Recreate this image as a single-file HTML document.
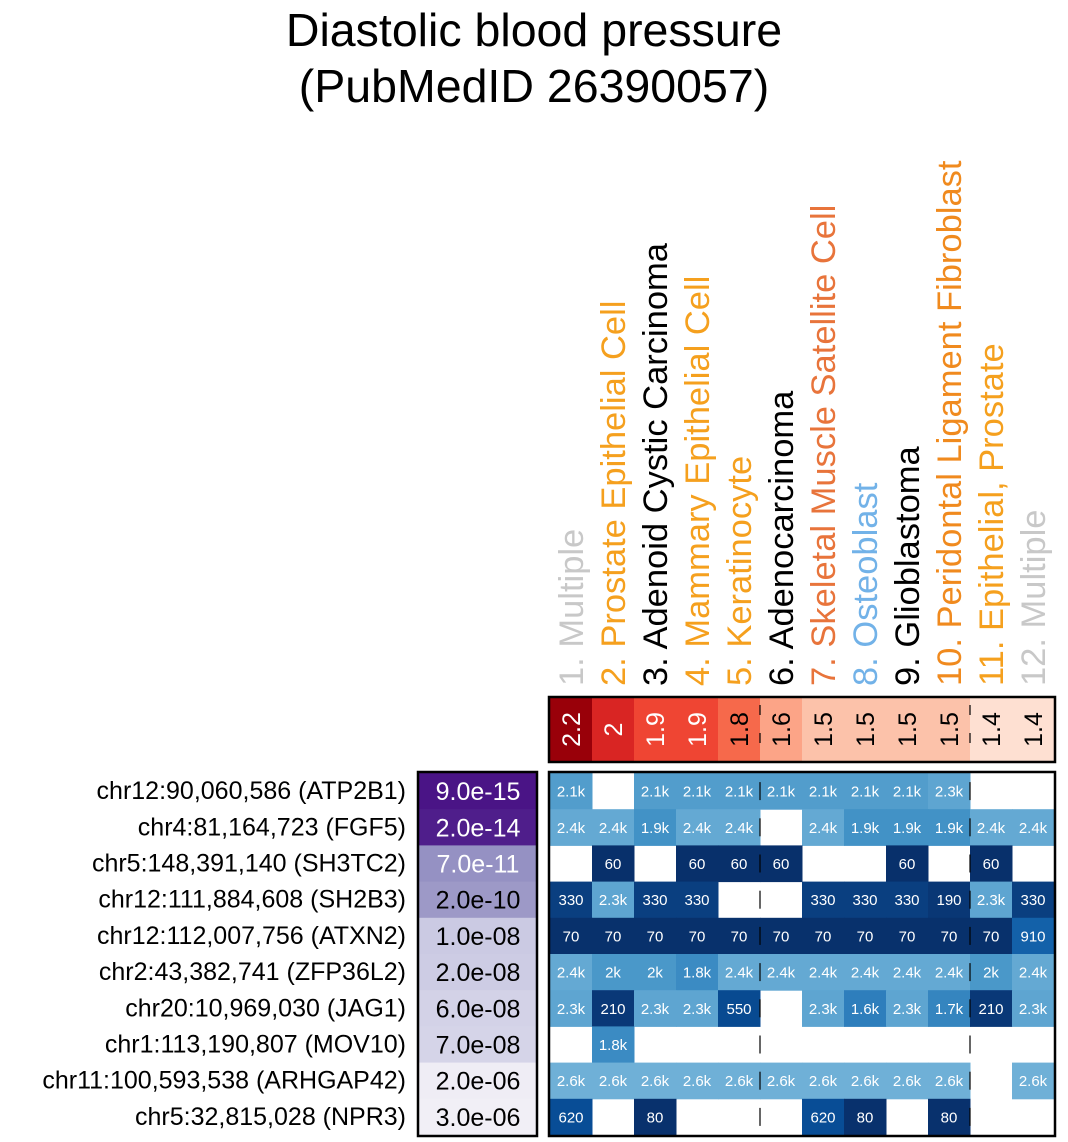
<!DOCTYPE html>
<html><head><meta charset="utf-8"><style>
body{margin:0;background:#fff;}
svg{display:block;font-family:"Liberation Sans",Arial,sans-serif;}
</style></head><body>
<svg id="chart" width="1068" height="1142" viewBox="0 0 1068 1142">
<text x="534" y="46" font-size="46.5" text-anchor="middle">Diastolic blood pressure</text>
<text x="534" y="102" font-size="46.5" text-anchor="middle">(PubMedID 26390057)</text>
<g id="g"></g>
</svg>
<script>
const columns=["1. Multiple","2. Prostate Epithelial Cell","3. Adenoid Cystic Carcinoma","4. Mammary Epithelial Cell","5. Keratinocyte","6. Adenocarcinoma","7. Skeletal Muscle Satellite Cell","8. Osteoblast","9. Glioblastoma","10. Peridontal Ligament Fibroblast","11. Epithelial, Prostate","12. Multiple"];
const columnColors=["#c8c8c8","#f5a01e","#000","#f5a01e","#f5a01e","#000","#e8743b","#72b2e8","#000","#f08a1e","#f5a01e","#c8c8c8"];
const scores=[2.2,2,1.9,1.9,1.8,1.6,1.5,1.5,1.5,1.5,1.4,1.4];
const scoreLabels=["2.2","2","1.9","1.9","1.8","1.6","1.5","1.5","1.5","1.5","1.4","1.4"];
const rowLabels=["chr12:90,060,586 (ATP2B1)","chr4:81,164,723 (FGF5)","chr5:148,391,140 (SH3TC2)","chr12:111,884,608 (SH2B3)","chr12:112,007,756 (ATXN2)","chr2:43,382,741 (ZFP36L2)","chr20:10,969,030 (JAG1)","chr1:113,190,807 (MOV10)","chr11:100,593,538 (ARHGAP42)","chr5:32,815,028 (NPR3)"];
const pvalues=["9.0e-15","2.0e-14","7.0e-11","2.0e-10","1.0e-08","2.0e-08","6.0e-08","7.0e-08","2.0e-06","3.0e-06"];
const pColors=["#4a1486","#4f1e8b","#9591c3","#9d99c7","#cbcae3","#cdcce4","#d3d2e7","#d5d4e8","#efedf5","#f1eff6"];
const pText=["#fff","#fff","#fff","#000","#000","#000","#000","#000","#000","#000"];
const distances=[
[2100,null,2100,2100,2100,2100,2100,2100,2100,2300,null,null],
[2400,2400,1900,2400,2400,null,2400,1900,1900,1900,2400,2400],
[null,60,null,60,60,60,null,null,60,null,60,null],
[330,2300,330,330,null,null,330,330,330,190,2300,330],
[70,70,70,70,70,70,70,70,70,70,70,910],
[2400,2000,2000,1800,2400,2400,2400,2400,2400,2400,2000,2400],
[2300,210,2300,2300,550,null,2300,1600,2300,1700,210,2300],
[null,1800,null,null,null,null,null,null,null,null,null,null],
[2600,2600,2600,2600,2600,2600,2600,2600,2600,2600,null,2600],
[620,null,80,null,null,null,620,80,null,80,null,null]];
const X0=550,CW=42,Y0=773,RH=36.2,SY0=698,SH=63;
const g=document.getElementById('g');const NS="http://www.w3.org/2000/svg";
function el(t,a,txt){const e=document.createElementNS(NS,t);for(const k in a)e.setAttribute(k,a[k]);if(txt!=null)e.textContent=txt;g.appendChild(e);return e;}
function xPos(i){return X0+i*CW;}
function yPos(r){return Y0+r*RH;}
function lerp(a,b,t){return Math.round(a+(b-a)*t);}
function hex(c){return [1,3,5].map(i=>parseInt(c.substr(i,2),16));}
function mix(c1,c2,t){const a=hex(c1),b=hex(c2);return `rgb(${lerp(a[0],b[0],t)},${lerp(a[1],b[1],t)},${lerp(a[2],b[2],t)})`;}
function scoreColor(v){const stops=[[1.4,"#fee0d2"],[1.5,"#fcc2aa"],[1.6,"#fca487"],[1.8,"#f6694b"],[1.9,"#ef4533"],[2,"#d92523"],[2.2,"#990009"]];
 for(let i=0;i<stops.length-1;i++){if(v<=stops[i+1][0]){const t=Math.max(0,(v-stops[i][0])/(stops[i+1][0]-stops[i][0]));return mix(stops[i][1],stops[i+1][1],t);}}return stops[stops.length-1][1];}
function distColor(v){const stops=[[60,"#08306b"],[330,"#0a3f80"],[620,"#084d96"],[910,"#1361a9"],[1600,"#2e7ebc"],[1900,"#4292c6"],[2100,"#529dcc"],[2400,"#64a9d3"],[2600,"#6fb0d7"]];
 for(let i=0;i<stops.length-1;i++){if(v<=stops[i+1][0]){const t=Math.max(0,(v-stops[i][0])/(stops[i+1][0]-stops[i][0]));return mix(stops[i][1],stops[i+1][1],t);}}return stops[stops.length-1][1];}
function fmt(v){return v>=1000?(Math.round(v/100)/10)+"k":String(v);}
columns.forEach((c,i)=>{const cx=xPos(i)+CW/2+12;
 const t=el('text',{x:cx,y:686,'font-size':34.5,fill:columnColors[i],transform:`rotate(-90 ${cx} 686)`},c);
 });
scores.forEach((s,i)=>{const r=el('rect',{x:xPos(i),y:SY0,width:CW+0.5,height:SH,fill:scoreColor(s)});
 
 const cx=xPos(i)+CW/2+9,cy=SY0+SH/2;
 const t=el('text',{x:cx,y:cy,'font-size':25,'text-anchor':'middle',fill:s>=1.9?"#fff":"#000",transform:`rotate(-90 ${cx} ${cy})`},scoreLabels[i]);
 });
const sb=el('rect',{x:X0-1,y:SY0-1,width:CW*12+2,height:SH+2,fill:'none',stroke:'#000','stroke-width':2.5});

[5,10].forEach(k=>{const l=el('line',{x1:xPos(k),x2:xPos(k),y1:SY0+7,y2:SY0+62,stroke:'#000','stroke-width':1.2,'stroke-dasharray':'10 18'});
 });
rowLabels.forEach((lab,r)=>{const cy=yPos(r)+RH/2;
 const t=el('text',{x:406,y:cy+8,'font-size':25,'text-anchor':'end',fill:'#000'},lab);
 
 const p=el('rect',{x:418,y:yPos(r),width:119,height:RH+0.5,fill:pColors[r]});
 
 const pt=el('text',{x:478,y:cy+9,'font-size':25,'text-anchor':'middle',fill:pText[r]},pvalues[r]);
 
 distances[r].forEach((v,i)=>{if(v==null)return;
  const c=el('rect',{x:xPos(i),y:yPos(r),width:CW+0.5,height:RH+0.5,fill:distColor(v)});
  
  const ct=el('text',{x:xPos(i)+CW/2,y:cy+5.5,'font-size':15,'text-anchor':'middle',fill:'#fff'},fmt(v));
  });
 [5,10].forEach(k=>{const l=el('line',{x1:xPos(k),x2:xPos(k),y1:cy-9,y2:cy+9,stroke:'#000','stroke-width':1.2});
  });
});
const pb=el('rect',{x:418,y:Y0-1,width:119,height:RH*10+2,fill:'none',stroke:'#000','stroke-width':2.5});

const hb=el('rect',{x:X0-1,y:Y0-1,width:CW*12+2,height:RH*10+2,fill:'none',stroke:'#000','stroke-width':2.5});

</script>
</body></html>
